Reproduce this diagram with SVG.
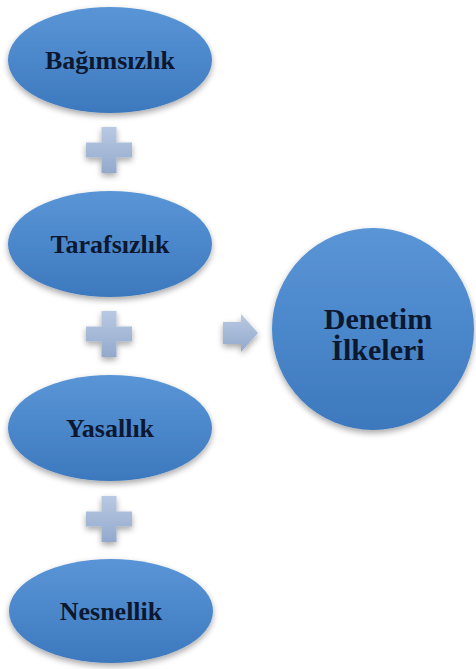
<svg xmlns="http://www.w3.org/2000/svg" width="476" height="669" viewBox="0 0 476 669">
  <defs>
    <linearGradient id="blueFill" x1="0" y1="0" x2="0" y2="1">
      <stop offset="0" stop-color="#5a95d6"/>
      <stop offset="0.5" stop-color="#4b87cb"/>
      <stop offset="1" stop-color="#3d78bd"/>
    </linearGradient>
    <linearGradient id="greyFill" x1="0" y1="0" x2="0" y2="1">
      <stop offset="0" stop-color="#b9c9e2"/>
      <stop offset="1" stop-color="#93a9cc"/>
    </linearGradient>
    <filter id="shadow" x="-20%" y="-20%" width="140%" height="150%">
      <feGaussianBlur in="SourceAlpha" stdDeviation="3"/>
      <feOffset dx="0" dy="3" result="b"/>
      <feComponentTransfer><feFuncA type="linear" slope="0.35"/></feComponentTransfer>
      <feMerge><feMergeNode/><feMergeNode in="SourceGraphic"/></feMerge>
    </filter>
    <path id="plus" d="M-7.5,-23 H7.5 V-7.5 H23 V7.5 H7.5 V23 H-7.5 V7.5 H-23 V-7.5 H-7.5 Z"/>
  </defs>
  <style>
    .node { fill: url(#blueFill); filter: url(#shadow); }
    .sign { fill: url(#greyFill); filter: url(#shadow); }
    .label { font-family: "Liberation Serif", "Times New Roman", serif; font-weight: bold; fill: #0c1830; text-anchor: middle; }
    .small { font-size: 26px; }
    .big { font-size: 30px; }
  </style>

  <g id="connectors">
    <use href="#plus" class="sign" x="109" y="150"/>
    <use href="#plus" class="sign" x="109" y="334"/>
    <use href="#plus" class="sign" x="109" y="519"/>
    <path class="sign" d="M223,322 H241 V314 L258,333 L241,352 V344 H223 Z"/>
  </g>

  <g id="bagimsizlik">
    <ellipse class="node" cx="110" cy="60" rx="102" ry="53"/>
    <text class="label small" x="110" y="68.5">Bağımsızlık</text>
  </g>
  <g id="tarafsizlik">
    <ellipse class="node" cx="110" cy="244" rx="102" ry="53"/>
    <text class="label small" x="110" y="252.5">Tarafsızlık</text>
  </g>
  <g id="yasallik">
    <ellipse class="node" cx="110" cy="428" rx="102" ry="53"/>
    <text class="label small" x="110" y="436.5">Yasallık</text>
  </g>
  <g id="nesnellik">
    <ellipse class="node" cx="111" cy="611" rx="102" ry="52"/>
    <text class="label small" x="111" y="619.5">Nesnellik</text>
  </g>
  <g id="denetim-ilkeleri">
    <circle class="node" cx="373" cy="329" r="101"/>
    <text class="label big" x="378" y="329">Denetim</text>
    <text class="label big" x="378" y="360">İlkeleri</text>
  </g>
</svg>
